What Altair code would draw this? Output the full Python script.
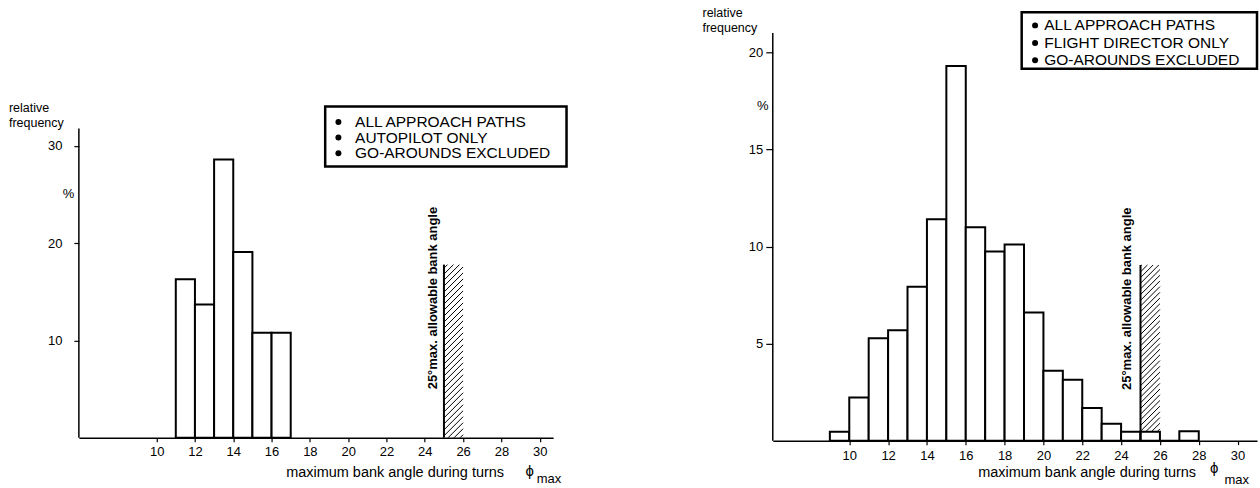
import altair as alt
import pandas as pd

FONT = "Liberation Sans"

# ---------------- data ----------------
# Left panel: autopilot only (bins of 1 degree, start value)
ap_bin_start = [11, 12, 13, 14, 15, 16]
ap_freq = [16.3, 13.7, 28.6, 19.1, 10.8, 10.8]

# Right panel: flight director only
fd_bin_start = [9, 10, 11, 12, 13, 14, 15, 16, 17, 18, 19, 20, 21, 22, 23, 24, 25, 26, 27]
fd_freq = [0.46, 2.23, 5.28, 5.69, 7.93, 11.4, 19.3, 10.99, 9.75, 10.1, 6.6, 3.6, 3.14,
           1.68, 0.87, 0.46, 0.46, 0.0, 0.48]

x_tick_values = [10, 12, 14, 16, 18, 20, 22, 24, 26, 28, 30]
ap_y_ticks = [10, 20, 30]
fd_y_ticks = [5, 10, 15, 20]

ap_legend = ["ALL APPROACH PATHS", "AUTOPILOT ONLY", "GO-AROUNDS EXCLUDED"]
fd_legend = ["ALL APPROACH PATHS", "FLIGHT DIRECTOR ONLY", "GO-AROUNDS EXCLUDED"]

limit_angle = 25
limit_label = "25°max. allowable bank angle"
x_title = "maximum bank angle during turns"
y_title = ["relative", "frequency"]

# ---------------- layout (positions in data units) ----------------
left_cfg = dict(
    xdom=[5.94, 30.7], ydom=[0, 44.46], width=475, height=433,
    axis_top=31.8, tick_size=5, label_pad=12, x_label_pad=3.5,
    hatch=(25, 26, 0, 17.8), hatch_step_px=6,
    box=(18.8, 31.4, 27.88, 34.05), bullet_x=19.49, text_x=20.36,
    line_y=[32.47, 30.86, 29.26],
    rel_x=2.29, rel_y=[33.54, 32.0], pct=(5.4, 25.1),
    rot=(24.45, 14.36), xt=(22.45, -3.59), phi=(29.48, -3.46), mx=(29.84, -4.28),
)
right_cfg = dict(
    xdom=[6.06, 31.0], ydom=[0, 22.42], width=485, height=436,
    axis_top=21.0, tick_size=7, label_pad=3, x_label_pad=5,
    hatch=(25, 26, 0.46, 9.05), hatch_step_px=5.7,
    box=(18.88, 31.0, 19.16, 22.07), bullet_x=19.57, text_x=20.04,
    line_y=[21.39, 20.48, 19.59],
    rel_x=2.44, rel_y=[21.8, 21.03], pct=(5.55, 17.22),
    rot=(24.28, 7.31), xt=(22.25, -1.66), phi=(28.8, -1.39), mx=(29.32, -2.0),
)


def hatch_lines(x0, x1, y0, y1, k, step):
    rows = []
    c = y0 - k * (x1 - x0) + step * 0.5
    while c < y1:
        xa = max(x0, x0 + (y0 - c) / k)
        xb = min(x1, x0 + (y1 - c) / k)
        if xb > xa + 1e-6:
            rows.append(dict(xa=xa, ya=c + k * (xa - x0), xb=xb, yb=c + k * (xb - x0)))
        c += step
    return pd.DataFrame(rows)


def panel(cfg, starts, freqs, legend_lines, y_ticks):
    xs = alt.Scale(domain=cfg["xdom"], nice=False, zero=False)
    ys = alt.Scale(domain=cfg["ydom"], nice=False, zero=False)
    px_x = cfg["width"] / (cfg["xdom"][1] - cfg["xdom"][0])
    px_y = cfg["height"] / (cfg["ydom"][1] - cfg["ydom"][0])

    def X(f):
        return alt.X(f, scale=xs, title=None)

    def Y(f):
        return alt.Y(f, scale=ys, title=None)

    bars_df = pd.DataFrame({"x0": starts, "x1": [s + 1 for s in starts],
                            "f": freqs, "base": [0] * len(starts)})
    bars = alt.Chart(bars_df).mark_rect(fill="white", stroke="black", strokeWidth=2).encode(
        x=alt.X("x0:Q", scale=xs, title=None,
                axis=alt.Axis(values=x_tick_values, grid=False, domain=True, domainColor="black",
                              domainWidth=1.5, tickColor="black", tickSize=4, tickWidth=1.2,
                              labelFont=FONT, labelFontSize=13, labelColor="black",
                              labelPadding=cfg["x_label_pad"], labelFlush=False)),
        x2="x1:Q",
        y=alt.Y("f:Q", scale=ys, title=None,
                axis=alt.Axis(values=y_ticks, grid=False, domain=False, tickColor="black",
                              tickSize=cfg["tick_size"], tickWidth=1.2, labelFont=FONT,
                              labelFontSize=13, labelColor="black",
                              labelPadding=cfg["label_pad"])),
        y2="base:Q",
    )

    yaxis_df = pd.DataFrame({"x": [cfg["xdom"][0]], "y0": [0], "y1": [cfg["axis_top"]]})
    yaxis = alt.Chart(yaxis_df).mark_rule(color="black", strokeWidth=1.5).encode(
        x=X("x:Q"), y=Y("y0:Q"), y2="y1:Q")

    hx0, hx1, hy0, hy1 = cfg["hatch"]
    k = px_x / px_y
    step = cfg["hatch_step_px"] / px_y
    h_df = hatch_lines(hx0, hx1, hy0, hy1, k, step)
    hatch = alt.Chart(h_df).mark_rule(color="black", strokeWidth=1).encode(
        x=X("xa:Q"), y=Y("ya:Q"), x2="xb:Q", y2="yb:Q")

    lim_df = pd.DataFrame({"x": [limit_angle], "y0": [0], "y1": [hy1]})
    lim = alt.Chart(lim_df).mark_rule(color="black", strokeWidth=2).encode(
        x=X("x:Q"), y=Y("y0:Q"), y2="y1:Q")

    bx0, bx1, by0, by1 = cfg["box"]
    box_df = pd.DataFrame({"x0": [bx0], "x1": [bx1], "y0": [by0], "y1": [by1]})
    box = alt.Chart(box_df).mark_rect(fill="white", fillOpacity=0, stroke="black",
                                      strokeWidth=2.5).encode(
        x=X("x0:Q"), x2="x1:Q", y=Y("y0:Q"), y2="y1:Q")

    leg_df = pd.DataFrame({"bx": [cfg["bullet_x"]] * 3, "tx": [cfg["text_x"]] * 3,
                           "ly": cfg["line_y"], "t": legend_lines})
    bullets = alt.Chart(leg_df).mark_circle(size=36, color="black", opacity=1).encode(
        x=X("bx:Q"), y=Y("ly:Q"))
    leg_text = alt.Chart(leg_df).mark_text(align="left", baseline="middle", font=FONT,
                                           fontSize=15.5, color="black").encode(
        x=X("tx:Q"), y=Y("ly:Q"), text="t:N")

    rel_df = pd.DataFrame({"x": [cfg["rel_x"]] * 2, "y": cfg["rel_y"], "t": y_title})
    rel = alt.Chart(rel_df).mark_text(align="left", baseline="alphabetic", font=FONT,
                                      fontSize=12.5, color="black").encode(
        x=X("x:Q"), y=Y("y:Q"), text="t:N")

    pct_df = pd.DataFrame({"x": [cfg["pct"][0]], "y": [cfg["pct"][1]], "t": ["%"]})
    pct = alt.Chart(pct_df).mark_text(align="center", baseline="middle", font=FONT,
                                      fontSize=13, color="black").encode(
        x=X("x:Q"), y=Y("y:Q"), text="t:N")

    rot_df = pd.DataFrame({"x": [cfg["rot"][0]], "y": [cfg["rot"][1]], "t": [limit_label]})
    rot = alt.Chart(rot_df).mark_text(angle=270, align="center", baseline="middle", font=FONT,
                                      fontSize=13, fontWeight="bold", color="black").encode(
        x=X("x:Q"), y=Y("y:Q"), text="t:N")

    xt_df = pd.DataFrame({"x": [cfg["xt"][0]], "y": [cfg["xt"][1]], "t": [x_title]})
    xt = alt.Chart(xt_df).mark_text(align="center", baseline="middle", font=FONT,
                                    fontSize=14.5, color="black").encode(
        x=X("x:Q"), y=Y("y:Q"), text="t:N")

    phi_df = pd.DataFrame({"x": [cfg["phi"][0]], "y": [cfg["phi"][1]], "t": ["ϕ"]})
    phi = alt.Chart(phi_df).mark_text(align="center", baseline="middle", font=FONT,
                                      fontSize=15, color="black").encode(
        x=X("x:Q"), y=Y("y:Q"), text="t:N")
    mx_df = pd.DataFrame({"x": [cfg["mx"][0]], "y": [cfg["mx"][1]], "t": ["max"]})
    mx = alt.Chart(mx_df).mark_text(align="left", baseline="middle", font=FONT,
                                    fontSize=13, color="black").encode(
        x=X("x:Q"), y=Y("y:Q"), text="t:N")

    return alt.layer(bars, yaxis, hatch, lim, box, bullets, leg_text, rel, pct, rot, xt,
                     phi, mx).properties(width=cfg["width"], height=cfg["height"])


left = panel(left_cfg, ap_bin_start, ap_freq, ap_legend, ap_y_ticks)
right = panel(right_cfg, fd_bin_start, fd_freq, fd_legend, fd_y_ticks)

chart = alt.hconcat(left, right, spacing=220).properties(
    bounds="flush",
    padding={"left": 8, "top": 5, "right": 1, "bottom": 0},
    background="white",
).configure_view(strokeWidth=0)

chart.save("out.html", embed_options={"renderer": "svg", "actions": False})
